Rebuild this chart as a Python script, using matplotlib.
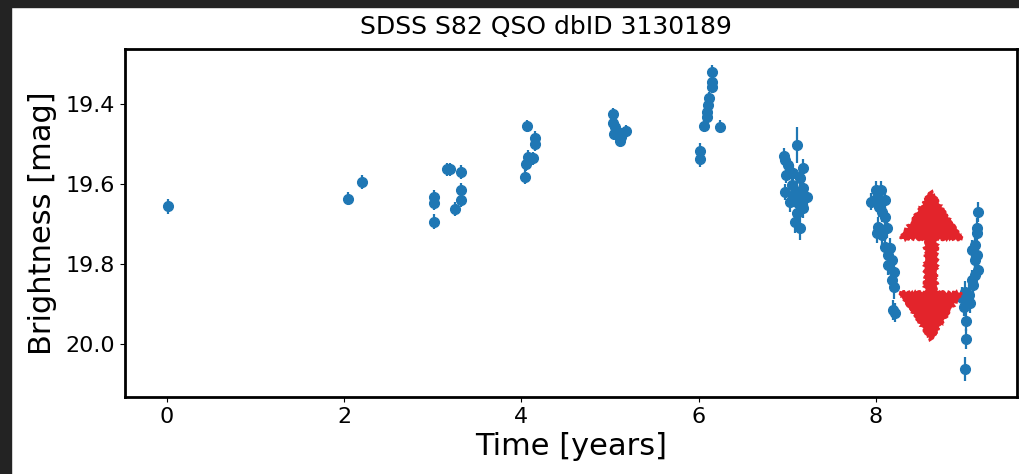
import numpy as np
import matplotlib
matplotlib.use("Agg")
import matplotlib.pyplot as plt
from matplotlib.patches import Rectangle, FancyArrow

# ---- data (time in years, magnitude, error) ----
t_yr = [0.01,
        2.04, 2.20,
        3.01, 3.01, 3.01, 3.16, 3.20, 3.25, 3.32, 3.32, 3.32,
        4.06, 4.15, 4.15, 4.08, 4.13, 4.05, 4.04,
        5.03, 5.03, 5.06, 5.04, 5.11, 5.18, 5.11, 5.13,
        6.155, 6.15, 6.15, 6.12, 6.11, 6.09, 6.10, 6.06, 6.24, 6.02, 6.02,
        7.107, 6.96, 6.97, 7.01, 7.18, 6.99, 7.07, 7.14, 6.97, 7.05, 7.11,
        7.18, 7.07, 7.22, 7.125, 7.18, 7.11, 7.09, 7.14, 7.03, 7.16,
        8.00, 8.06, 7.945, 8.00, 8.10, 8.03, 8.07, 8.10, 8.02, 8.01, 8.07,
        8.12, 8.10, 8.16, 8.14, 8.18, 8.14, 8.20, 8.18, 8.20, 8.19, 8.21,
        9.15, 9.14, 9.14, 9.12, 9.08, 9.14, 9.12, 9.15, 9.12, 9.08, 9.10,
        9.00, 9.05, 8.97, 8.99, 9.06, 9.02, 9.02, 9.00]
mag = [19.655,
       19.636, 19.594,
       19.632, 19.648, 19.694, 19.563, 19.563, 19.662, 19.569, 19.615, 19.640,
       19.454, 19.483, 19.500, 19.531, 19.535, 19.550, 19.581,
       19.423, 19.446, 19.456, 19.474, 19.471, 19.467, 19.491, 19.481,
       19.318, 19.343, 19.356, 19.385, 19.402, 19.418, 19.431, 19.454, 19.456, 19.517, 19.538,
       19.502, 19.529, 19.540, 19.552, 19.560, 19.577, 19.573, 19.585, 19.619, 19.602, 19.619,
       19.610, 19.632, 19.632, 19.648, 19.661, 19.673, 19.694, 19.711, 19.644, 19.640,
       19.615, 19.615, 19.644, 19.636, 19.640, 19.657, 19.669, 19.682, 19.707, 19.723, 19.728,
       19.711, 19.757, 19.761, 19.778, 19.790, 19.803, 19.820, 19.840, 19.857, 19.916, 19.922,
       19.671, 19.711, 19.723, 19.753, 19.765, 19.778, 19.790, 19.815, 19.828, 19.840, 19.853,
       19.870, 19.878, 19.886, 19.907, 19.899, 19.943, 19.988, 20.063]
mag_err = [0.019,
           0.017, 0.017,
           0.018, 0.018, 0.018, 0.017, 0.017, 0.017, 0.018, 0.018, 0.018,
           0.016, 0.017, 0.017, 0.016, 0.016, 0.017, 0.018,
           0.015, 0.015, 0.015, 0.015, 0.015, 0.016, 0.016, 0.016,
           0.018, 0.016, 0.016, 0.016, 0.016, 0.016, 0.016, 0.016, 0.016, 0.020, 0.020,
           0.045, 0.020, 0.020, 0.020, 0.022, 0.020, 0.020, 0.022, 0.020, 0.025, 0.025,
           0.022, 0.025, 0.025, 0.025, 0.025, 0.030, 0.028, 0.030, 0.025, 0.025,
           0.022, 0.022, 0.022, 0.025, 0.025, 0.025, 0.025, 0.025, 0.025, 0.025, 0.025,
           0.025, 0.025, 0.025, 0.025, 0.025, 0.025, 0.025, 0.025, 0.030, 0.025, 0.025,
           0.025, 0.025, 0.025, 0.025, 0.025, 0.025, 0.025, 0.025, 0.025, 0.025, 0.025,
           0.028, 0.028, 0.028, 0.025, 0.025, 0.025, 0.025, 0.030]

# ---- arrow annotation (data units) ----
arrow_x = 8.62
arrow_top = 19.619
arrow_bottom = 19.990
arrow_shaft_w = 0.13
arrow_head_w = 0.69
arrow_head_len = 0.118

fig = plt.figure(figsize=(10.2, 4.74), dpi=100)
ax = fig.add_axes([0.1225, 0.1624, 0.8745, 0.7342])

ax.errorbar(t_yr, mag, yerr=mag_err, fmt='o', color='#1f77b4',
            markersize=7, elinewidth=1.6, capsize=0)

mid = (arrow_top + arrow_bottom) / 2
for start, d in [(mid, arrow_top - mid), (mid, arrow_bottom - mid)]:
    a = FancyArrow(arrow_x, start, 0, d, width=arrow_shaft_w,
                   head_width=arrow_head_w, head_length=arrow_head_len,
                   length_includes_head=True, color='#e3242b', lw=1.5,
                   zorder=5)
    a.set_sketch_params(scale=1.5, length=3, randomness=8)
    ax.add_patch(a)

ax.set_xlim(-0.47, 9.59)
ax.set_ylim(20.134, 19.261)
ax.set_xticks([0, 2, 4, 6, 8])
ax.set_yticks([19.4, 19.6, 19.8, 20.0])
ax.tick_params(labelsize=16)
for s in ax.spines.values():
    s.set_linewidth(2)
ax.set_title('SDSS S82 QSO dbID 3130189', fontsize=18, x=0.4725, pad=11)
ax.set_xlabel('Time [years]', fontsize=22)
ax.set_ylabel('Brightness [mag]', fontsize=22, labelpad=6)

# dark screenshot border on the left and top
fig.patches.append(Rectangle((0, 0), 11 / 1020, 1, transform=fig.transFigure,
                             color='#232323', zorder=10))
fig.patches.append(Rectangle((0, 1 - 7 / 474), 1, 7 / 474, transform=fig.transFigure,
                             color='#232323', zorder=10))

fig.savefig('out.png', dpi=100)
